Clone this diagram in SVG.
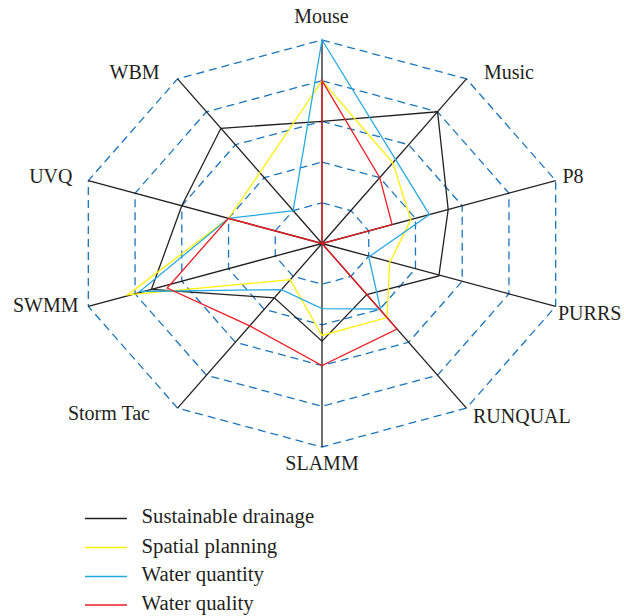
<svg xmlns="http://www.w3.org/2000/svg" width="624" height="616" viewBox="0 0 624 616">
<style>
.grid{fill:none;stroke:#1b75bb;stroke-width:1.3;stroke-dasharray:8 5}
.axis{stroke:#231f20;stroke-width:1.3}
.s{fill:none;stroke-width:1.3;stroke-linejoin:miter}
.k{stroke:#231f20}.y{stroke:#fff200}.b{stroke:#27aae1}.r{stroke:#ed1c24}
text{font-family:"Liberation Serif","Times New Roman",serif;font-size:20px;fill:#231f20}
.lg{font-size:20.8px}
</style>
<rect width="624" height="616" fill="#fff"/>
<g id="grid">
<polygon class="grid" points="322,202.8 350.88,210.57 368.74,230.92 368.74,256.08 350.88,276.43 322,284.2 293.12,276.43 275.26,256.08 275.26,230.92 293.12,210.57"/>
<polygon class="grid" points="322,162.1 379.77,177.65 415.47,218.35 415.47,268.65 379.77,309.35 322,324.9 264.23,309.35 228.53,268.65 228.53,218.35 264.23,177.65"/>
<polygon class="grid" points="322,121.4 408.65,144.72 462.21,205.77 462.21,281.23 408.65,342.28 322,365.6 235.35,342.28 181.79,281.23 181.79,205.77 235.35,144.72"/>
<polygon class="grid" points="322,80.7 437.54,111.8 508.94,193.2 508.94,293.8 437.54,375.2 322,406.3 206.46,375.2 135.06,293.8 135.06,193.2 206.46,111.8"/>
<polygon class="grid" points="322,40 466.42,78.87 555.68,180.62 555.68,306.38 466.42,408.13 322,447 177.58,408.13 88.32,306.38 88.32,180.62 177.58,78.87"/>
</g>
<g id="axes">
<line class="axis" x1="322" y1="243.5" x2="322" y2="40"/>
<line class="axis" x1="322" y1="243.5" x2="466.42" y2="78.87"/>
<line class="axis" x1="322" y1="243.5" x2="555.68" y2="180.62"/>
<line class="axis" x1="322" y1="243.5" x2="555.68" y2="306.38"/>
<line class="axis" x1="322" y1="243.5" x2="466.42" y2="408.13"/>
<line class="axis" x1="322" y1="243.5" x2="322" y2="447"/>
<line class="axis" x1="322" y1="243.5" x2="177.58" y2="408.13"/>
<line class="axis" x1="322" y1="243.5" x2="88.32" y2="306.38"/>
<line class="axis" x1="322" y1="243.5" x2="88.32" y2="180.62"/>
<line class="axis" x1="322" y1="243.5" x2="177.58" y2="78.87"/>
</g>
<g id="series">
<polygon id="sustainable-drainage" class="s k" points="322,121.4 437.54,111.8 448.19,209.54 438.84,276 366.77,294.54 322,341.18 274.34,297.83 151.41,289.4 181.79,205.77 220.91,128.26"/>
<polygon id="spatial-planning" class="s y" points="322,80.7 392.77,162.83 410.8,219.61 389.77,262.5 386.99,317.58 322,335.5 290.23,279.72 127.5,295 228.53,218.35 259.9,172.71"/>
<polygon id="water-quantity" class="s b" points="322,40 395.65,159.54 429.49,214.58 368.74,257 380.5,309 322,308.62 281.56,289.6 139.73,291.5 228.53,218.35 293.12,210.57"/>
<polygon id="water-quality" class="s r" points="322,80.7 379.77,177.65 392.1,224.64 322,243.5 397.1,329.11 322,365.6 249.79,325.82 167.2,288 228.53,218.35 322,243.5"/>
</g>
<g id="labels">
<text id="lbl-mouse" x="321.5" y="23" text-anchor="middle">Mouse</text>
<text id="lbl-music" x="484" y="78.5">Music</text>
<text id="lbl-p8" x="562.5" y="183">P8</text>
<text id="lbl-purrs" x="558" y="319.5">PURRS</text>
<text id="lbl-runqual" x="473" y="422.5">RUNQUAL</text>
<text id="lbl-slamm" x="322" y="470" text-anchor="middle">SLAMM</text>
<text id="lbl-stormtac" x="150" y="420" text-anchor="end">Storm Tac</text>
<text id="lbl-swmm" x="78.5" y="311.5" text-anchor="end">SWMM</text>
<text id="lbl-uvq" x="72.5" y="183" text-anchor="end">UVQ</text>
<text id="lbl-wbm" x="159.5" y="79" text-anchor="end">WBM</text>
</g>
<g id="legend">
<line class="s k" x1="85" y1="518.5" x2="127" y2="518.5"/>
<line class="s y" x1="85" y1="547.5" x2="127" y2="547.5"/>
<line class="s b" x1="85" y1="576.5" x2="127" y2="576.5"/>
<line class="s r" x1="85" y1="605" x2="127" y2="605"/>
<text class="lg" x="141.5" y="523.3">Sustainable drainage</text>
<text class="lg" x="141.5" y="552.5">Spatial planning</text>
<text class="lg" x="141.5" y="581.3">Water quantity</text>
<text class="lg" x="141.5" y="610">Water quality</text>
</g>
</svg>
